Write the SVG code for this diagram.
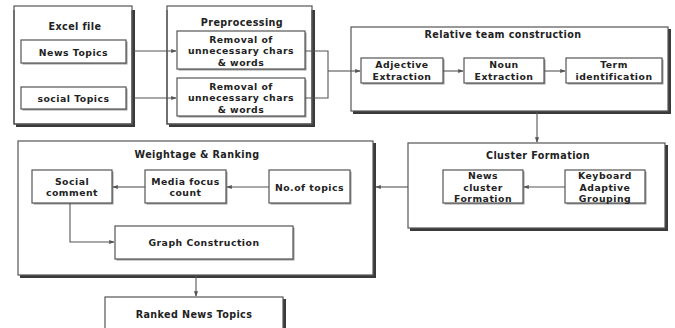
<svg xmlns="http://www.w3.org/2000/svg" width="675" height="328" viewBox="0 0 675 328">
<style>
text{font-family:"DejaVu Sans","Liberation Sans",sans-serif;font-weight:bold;font-size:9.3px;letter-spacing:0.5px;fill:#222;text-anchor:middle;dominant-baseline:central}
.t{font-size:9.6px;letter-spacing:0.4px}
.box{fill:#fff;stroke:#555;stroke-width:1.2}
.sh{fill:#3a3a3a}
.ish{fill:#999}
.c{fill:none;stroke:#555;stroke-width:1.1}
</style>
<defs>
<marker id="a" viewBox="0 0 8 8" refX="7" refY="4" markerWidth="5" markerHeight="5" orient="auto">
<path d="M0,1 L8,4 L0,7 z" fill="#555"/>
</marker>
</defs>
<rect width="675" height="328" fill="#fff"/>

<g id="excel">
<rect class="sh" x="16" y="10" width="119" height="117"/>
<rect class="box" x="14" y="6" width="118" height="118" stroke="none"/>
<path d="M14,10 V124 H132 V10" fill="none" stroke="#555" stroke-width="1.2"/>
<text class="t" x="75" y="26">Excel file</text>
</g>
<g id="news">
<rect class="ish" x="22.5" y="41.5" width="105" height="23"/>
<rect class="box" x="21" y="40" width="105" height="23"/>
<text x="73.5" y="52">News Topics</text>
</g>
<g id="social">
<rect class="ish" x="22.5" y="88.5" width="105" height="22"/>
<rect class="box" x="21" y="87" width="105" height="22"/>
<text x="73.5" y="98">social Topics</text>
</g>

<g id="pre">
<rect class="sh" x="169" y="10" width="146" height="117"/>
<rect class="box" x="167" y="6" width="145" height="118" stroke="none"/>
<path d="M167,10 V124 H312 V10" fill="none" stroke="#555" stroke-width="1.2"/>
<text class="t" x="242" y="22">Preprocessing</text>
</g>
<g id="rem1">
<rect class="ish" x="178.5" y="32.5" width="128" height="38"/>
<rect class="box" x="177" y="31" width="128" height="38"/>
<text x="241" y="39">Removal of</text>
<text x="241" y="50.5">unnecessary chars</text>
<text x="241" y="62">&amp; words</text>
</g>
<g id="rem2">
<rect class="ish" x="178.5" y="79.5" width="128" height="38"/>
<rect class="box" x="177" y="78" width="128" height="38"/>
<text x="241" y="86">Removal of</text>
<text x="241" y="97.5">unnecessary chars</text>
<text x="241" y="109">&amp; words</text>
</g>

<g id="relative">
<rect class="sh" x="353" y="29" width="318" height="85"/>
<rect class="box" x="351" y="27" width="317" height="84"/>
<text class="t" x="503" y="34">Relative team construction</text>
</g>
<g id="adj">
<rect class="ish" x="362.5" y="59.5" width="82" height="25"/>
<rect class="box" x="361" y="58" width="82" height="25"/>
<text x="402" y="64.5">Adjective</text>
<text x="402" y="76">Extraction</text>
</g>
<g id="noun">
<rect class="ish" x="465.5" y="59.5" width="80" height="25"/>
<rect class="box" x="464" y="58" width="80" height="25"/>
<text x="504" y="64.5">Noun</text>
<text x="504" y="76">Extraction</text>
</g>
<g id="term">
<rect class="ish" x="567.5" y="59.5" width="96" height="25"/>
<rect class="box" x="566" y="58" width="96" height="25"/>
<text x="614" y="64.5">Term</text>
<text x="614" y="76">identification</text>
</g>

<g id="cluster">
<rect class="sh" x="410" y="145" width="258" height="86"/>
<rect class="box" x="408" y="143" width="257" height="85"/>
<text class="t" x="538" y="155">Cluster Formation</text>
</g>
<g id="newscluster">
<rect class="ish" x="444.5" y="171.5" width="80" height="33"/>
<rect class="box" x="443" y="170" width="80" height="33"/>
<text x="483" y="175.5">News</text>
<text x="483" y="187">cluster</text>
<text x="483" y="198.5">Formation</text>
</g>
<g id="keyboard">
<rect class="ish" x="566.5" y="171.5" width="80" height="33"/>
<rect class="box" x="565" y="170" width="80" height="33"/>
<text x="605" y="175.5">Keyboard</text>
<text x="605" y="187">Adaptive</text>
<text x="605" y="198.5">Grouping</text>
</g>

<g id="weightage">
<rect class="sh" x="20" y="143" width="356" height="135"/>
<rect class="box" x="18" y="141" width="355" height="134"/>
<text class="t" x="197" y="154">Weightage &amp; Ranking</text>
</g>
<g id="socialcomment">
<rect class="ish" x="33.5" y="171.5" width="80" height="33"/>
<rect class="box" x="32" y="170" width="80" height="33"/>
<text x="72" y="181">Social</text>
<text x="72" y="192.5">comment</text>
</g>
<g id="media">
<rect class="ish" x="146.5" y="171.5" width="81" height="33"/>
<rect class="box" x="145" y="170" width="81" height="33"/>
<text x="185.5" y="181">Media focus</text>
<text x="185.5" y="192.5">count</text>
</g>
<g id="notopics">
<rect class="ish" x="270.5" y="171.5" width="81" height="33"/>
<rect class="box" x="269" y="170" width="81" height="33"/>
<text x="309.5" y="187">No.of topics</text>
</g>
<g id="graph">
<rect class="ish" x="116.5" y="227.5" width="178" height="33"/>
<rect class="box" x="115" y="226" width="178" height="33"/>
<text x="204" y="242">Graph Construction</text>
</g>

<g id="ranked">
<rect class="sh" x="107" y="299" width="179" height="40"/>
<rect class="box" x="105" y="297" width="178" height="40"/>
<text class="t" x="194" y="314">Ranked News Topics</text>
</g>

<g id="connectors">
<path class="c" d="M134,51 H176" marker-end="url(#a)"/>
<path class="c" d="M134,98 H176" marker-end="url(#a)"/>
<path class="c" d="M305,51 H328 V98 H305"/>
<path class="c" d="M328,71 H360" marker-end="url(#a)"/>
<path class="c" d="M443,71 H463" marker-end="url(#a)"/>
<path class="c" d="M544,71 H565" marker-end="url(#a)"/>
<path class="c" d="M537,111 V142" marker-end="url(#a)"/>
<path class="c" d="M565,187 H524" marker-end="url(#a)"/>
<path class="c" d="M408,187 H376" marker-end="url(#a)"/>
<path class="c" d="M269,187 H227" marker-end="url(#a)"/>
<path class="c" d="M145,187 H113" marker-end="url(#a)"/>
<path class="c" d="M70,203 V242 H114" marker-end="url(#a)"/>
<path class="c" d="M196,275 V296" marker-end="url(#a)"/>
</g>
</svg>
